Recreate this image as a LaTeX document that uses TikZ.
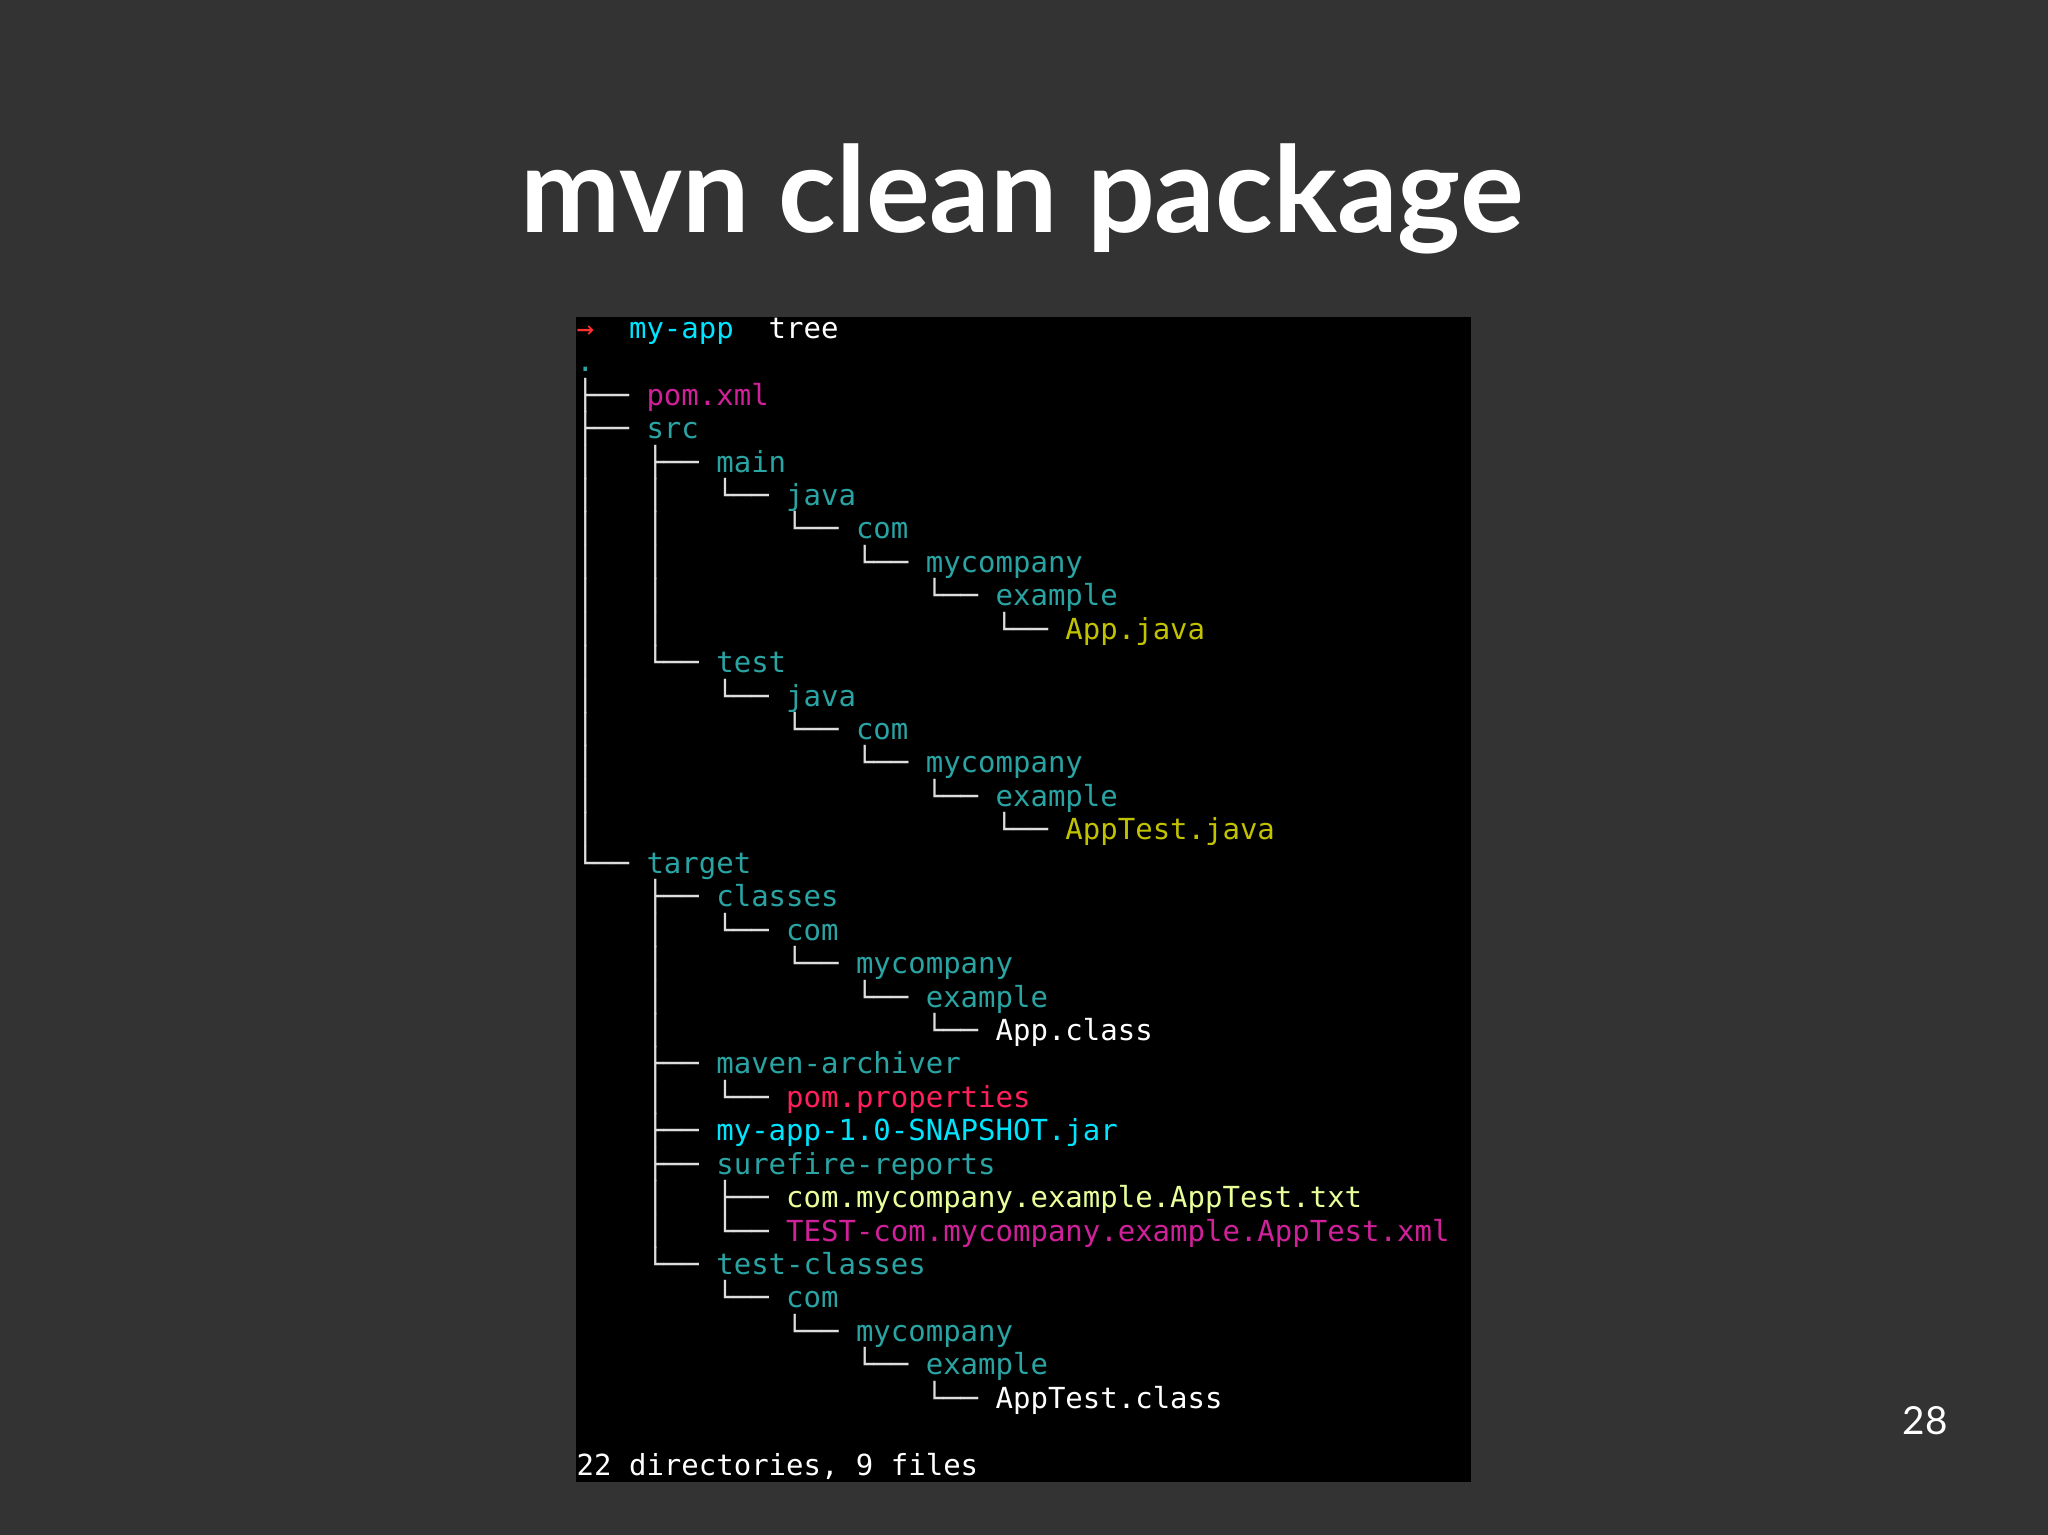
\documentclass[tikz,border=0pt]{standalone}
\usepackage{fontspec}
\setmonofont{DejaVu Sans Mono}
\newfontfamily\titlefont{Lato}
\definecolor{slidebg}{HTML}{333333}
\definecolor{treegray}{HTML}{DDDDDD}
\definecolor{dirteal}{HTML}{2AA3A3}
\definecolor{xmlpink}{HTML}{D0209A}
\definecolor{javaolive}{HTML}{C2C200}
\definecolor{proppink}{HTML}{FF1F5A}
\definecolor{jarcyan}{HTML}{00E5FF}
\definecolor{txtlime}{HTML}{E8FF9A}
\definecolor{arrowred}{HTML}{FF3030}
\newcommand\trow[4]{\node[trow] (r#1) at (5.76,{15.35-(259+25.6*#1)*0.01306}) {\textcolor{treegray}{#2}\textcolor{#3}{#4}};}
\begin{document}
\begin{tikzpicture}[
    trow/.style={anchor=base west, inner sep=0pt, font=\ttfamily\fontsize{8.25}{9.5}\selectfont},
    title/.style={anchor=base, text=white, font=\titlefont\bfseries\fontsize{34}{40}\selectfont}
  ]
  \fill[slidebg] (0,0) rectangle (20.48,15.35);
  \useasboundingbox (0,0) rectangle (20.48,15.35);

  % Title
  \node[title] (title) at (10.22,13.02) {mvn clean package};

  % Terminal
  \fill[black] (5.76,0.53) rectangle (14.71,12.18);
  \trow{0}{}{arrowred}{→~~\textcolor{jarcyan}{my-app}~~\textcolor{white}{tree}}
  \trow{1}{}{dirteal}{.}
  \trow{2}{├──~}{xmlpink}{pom.xml}
  \trow{3}{├──~}{dirteal}{src}
  \trow{4}{│~~~├──~}{dirteal}{main}
  \trow{5}{│~~~│~~~└──~}{dirteal}{java}
  \trow{6}{│~~~│~~~~~~~└──~}{dirteal}{com}
  \trow{7}{│~~~│~~~~~~~~~~~└──~}{dirteal}{mycompany}
  \trow{8}{│~~~│~~~~~~~~~~~~~~~└──~}{dirteal}{example}
  \trow{9}{│~~~│~~~~~~~~~~~~~~~~~~~└──~}{javaolive}{App.java}
  \trow{10}{│~~~└──~}{dirteal}{test}
  \trow{11}{│~~~~~~~└──~}{dirteal}{java}
  \trow{12}{│~~~~~~~~~~~└──~}{dirteal}{com}
  \trow{13}{│~~~~~~~~~~~~~~~└──~}{dirteal}{mycompany}
  \trow{14}{│~~~~~~~~~~~~~~~~~~~└──~}{dirteal}{example}
  \trow{15}{│~~~~~~~~~~~~~~~~~~~~~~~└──~}{javaolive}{AppTest.java}
  \trow{16}{└──~}{dirteal}{target}
  \trow{17}{~~~~├──~}{dirteal}{classes}
  \trow{18}{~~~~│~~~└──~}{dirteal}{com}
  \trow{19}{~~~~│~~~~~~~└──~}{dirteal}{mycompany}
  \trow{20}{~~~~│~~~~~~~~~~~└──~}{dirteal}{example}
  \trow{21}{~~~~│~~~~~~~~~~~~~~~└──~}{white}{App.class}
  \trow{22}{~~~~├──~}{dirteal}{maven-archiver}
  \trow{23}{~~~~│~~~└──~}{proppink}{pom.properties}
  \trow{24}{~~~~├──~}{jarcyan}{my-app-1.0-SNAPSHOT.jar}
  \trow{25}{~~~~├──~}{dirteal}{surefire-reports}
  \trow{26}{~~~~│~~~├──~}{txtlime}{com.mycompany.example.AppTest.txt}
  \trow{27}{~~~~│~~~└──~}{xmlpink}{TEST-com.mycompany.example.AppTest.xml}
  \trow{28}{~~~~└──~}{dirteal}{test-classes}
  \trow{29}{~~~~~~~~└──~}{dirteal}{com}
  \trow{30}{~~~~~~~~~~~~└──~}{dirteal}{mycompany}
  \trow{31}{~~~~~~~~~~~~~~~~└──~}{dirteal}{example}
  \trow{32}{~~~~~~~~~~~~~~~~~~~~└──~}{white}{AppTest.class}
  \trow{34}{}{white}{22 directories, 9 files}

  % Page number
  \node[text=white, font=\titlefont\fontsize{11}{13}\selectfont] (page) at (19.25,1.14) {28};
\end{tikzpicture}
\end{document}
